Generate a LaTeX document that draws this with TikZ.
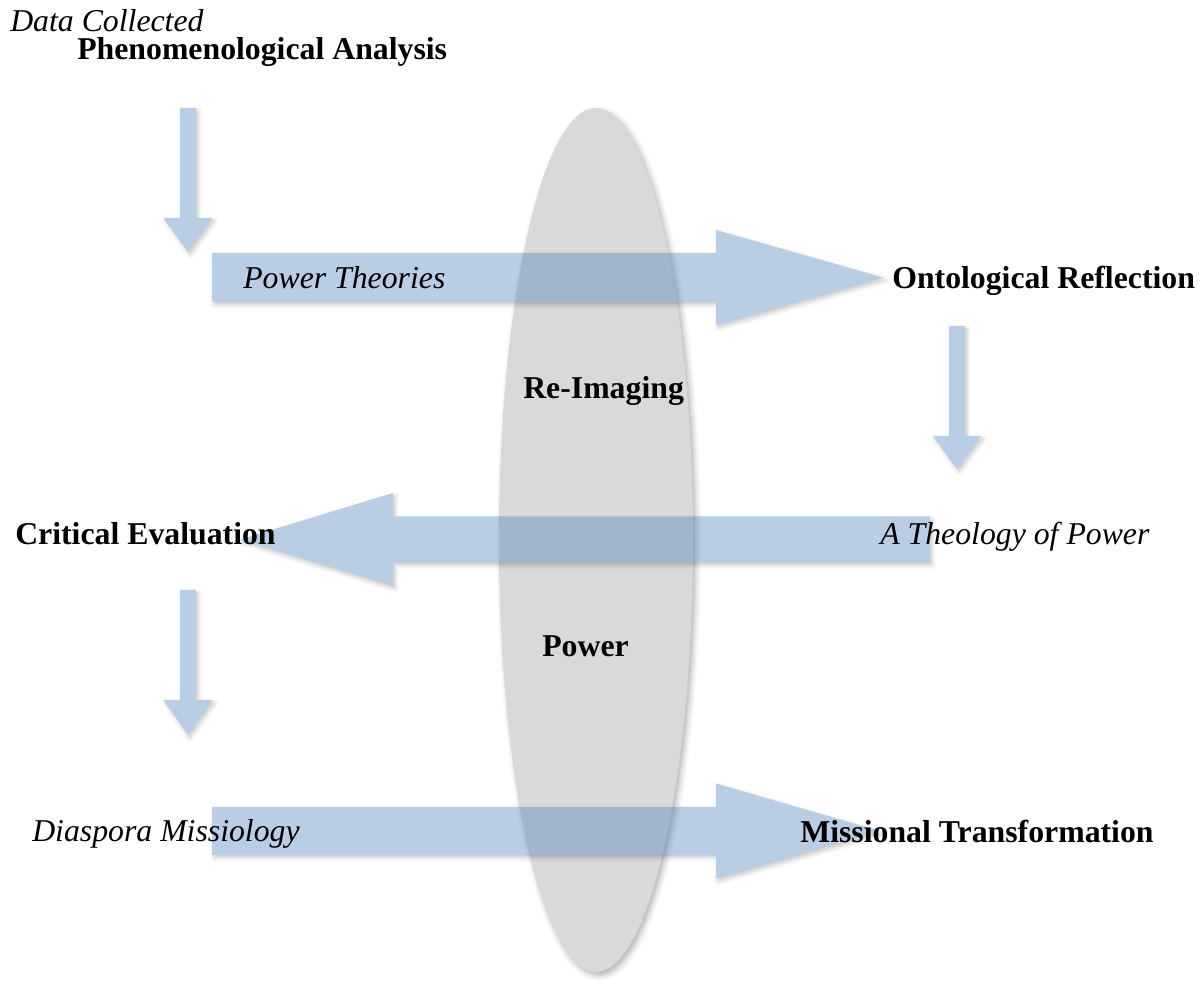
\documentclass[tikz,border=0pt]{standalone}
\usepackage{fontspec}
\setmainfont{Liberation Serif}
\usepackage{tikz}
\usetikzlibrary{positioning}
\usetikzlibrary{calc,shadows.blur}

\definecolor{lensgray}{RGB}{217,217,217}
\definecolor{flowblue}{RGB}{79,129,189}

% block arrow: tail, tip, shaft half width, head half width, head length
\newcommand{\blockarrow}[5]{%
	\coordinate (HeadBase) at ($(#2)!#5!(#1)$);
	\begin{scope}[transparency group, opacity=0.4]
	\fill[flow] ($(#1)!#3!90:(#2)$) -- ($(HeadBase)!#3!90:(#2)$) -- ($(HeadBase)!#4!90:(#2)$) -- (#2)
		-- ($(HeadBase)!#4!-90:(#2)$) -- ($(HeadBase)!#3!-90:(#2)$) -- ($(#1)!#3!-90:(#2)$) -- cycle;
	\end{scope}
}

\begin{document}
\begin{tikzpicture}[
	flow/.style={fill=flowblue,
		blur shadow={shadow xshift=1.5pt, shadow yshift=-2pt, shadow blur radius=3pt, shadow opacity=55}},
	lens/.style={fill=lensgray,
		blur shadow={shadow xshift=2pt, shadow yshift=-2.5pt, shadow blur radius=4pt, shadow opacity=30}},
	txt/.style={inner sep=0pt, anchor=base west, font=\fontsize{22.6}{27}\selectfont},
	stage/.style={txt, font=\fontsize{22.6}{27}\selectfont\bfseries},
	theory/.style={txt, font=\fontsize{22.6}{27}\selectfont\itshape}
]
	\useasboundingbox (0,0) rectangle (30.1,24.5);

	% ---------------------
	% Lens
	\coordinate (Lens) at (14.90,11.00);
	\fill[lens] (Lens) ellipse [x radius=2.425, y radius=10.80];

	% ---------------------
	% Arrow end points
	\coordinate (DataTail) at (4.70,21.80);
	\path (DataTail) +(0,-3.60) coordinate (DataTip);

	\coordinate (TheoryTail) at (5.30,17.5625);
	\path (TheoryTail) +(16.775,0) coordinate (TheoryTip);

	\coordinate (OntoTail) at (23.925,16.35);
	\path (OntoTail) +(0,-3.575) coordinate (OntoTip);

	\coordinate (TheologyTail) at (23.25,11.0125);
	\path (TheologyTail) +(-17.25,0) coordinate (TheologyTip);

	\coordinate (CriticalTail) at (4.70,9.75);
	\path (CriticalTail) +(0,-3.625) coordinate (CriticalTip);

	\coordinate (DiasporaTail) at (5.30,3.725);
	\path (DiasporaTail) +(16.70,0) coordinate (DiasporaTip);

	% ---------------------
	% Arrows
	\blockarrow{DataTail}{DataTip}{0.20cm}{0.6125cm}{0.85cm}
	\blockarrow{TheoryTail}{TheoryTip}{0.6125cm}{1.1875cm}{4.175cm}
	\blockarrow{OntoTail}{OntoTip}{0.20cm}{0.60cm}{0.825cm}
	\blockarrow{TheologyTail}{TheologyTip}{0.575cm}{1.1625cm}{3.825cm}
	\blockarrow{CriticalTail}{CriticalTip}{0.20cm}{0.6125cm}{0.875cm}
	\blockarrow{DiasporaTail}{DiasporaTip}{0.60cm}{1.1875cm}{4.10cm}

	% ---------------------
	% Labels
	\node[theory] (DataCollected) at (0.25,23.70) {Data Collected};
	\node[stage] (Phenomenological) at (1.925,23.00) {Phenomenological Analysis};

	\node[theory] (PowerTheories) at (6.075,17.275) {Power Theories};
	\node[stage] (Ontological) at (22.30,17.275) {Ontological Reflection};

	\node[stage] (ReImaging) at (13.075,14.525) {Re-Imaging};

	\node[stage] (Critical) at (0.375,10.875) {Critical Evaluation};
	\node[theory] (Theology) at (22.00,10.875) {A Theology of Power};

	\node[stage] (Power) at (13.55,8.075) {Power};

	\node[theory] (Diaspora) at (0.80,3.45) {Diaspora Missiology};
	\node[stage] (Missional) at (20.00,3.425) {Missional Transformation};

\end{tikzpicture}
\end{document}
